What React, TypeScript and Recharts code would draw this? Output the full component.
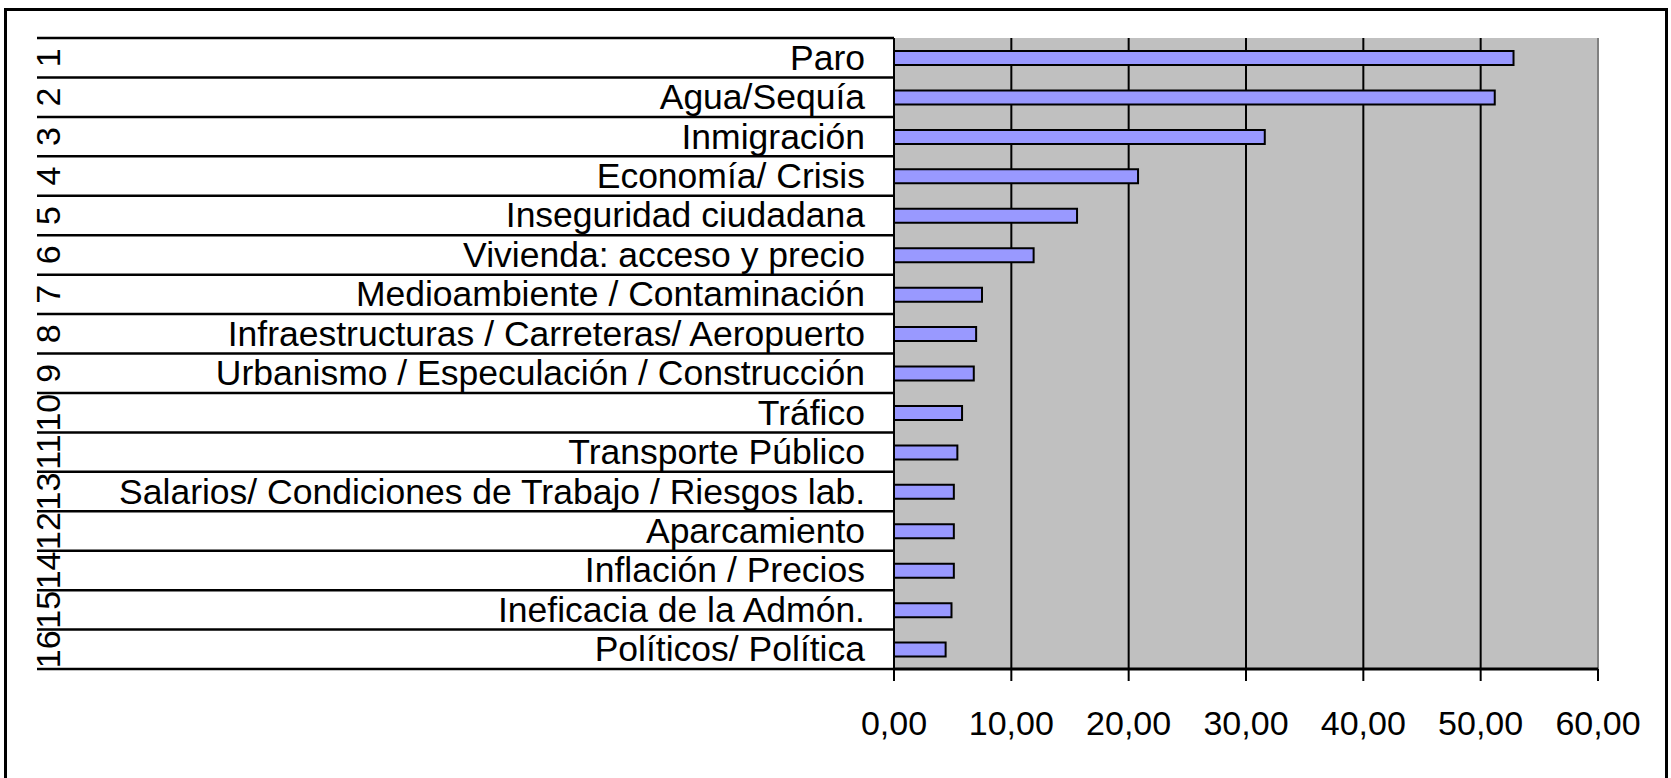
import React from "react";
import {
  BarChart,
  Bar,
  XAxis,
  YAxis,
  CartesianGrid,
  ReferenceLine,
} from "recharts";

// problemas citados, de mayor a menor
const categories = [
  "Paro",
  "Agua/Sequía",
  "Inmigración",
  "Economía/ Crisis",
  "Inseguridad ciudadana",
  "Vivienda: acceso y precio",
  "Medioambiente / Contaminación",
  "Infraestructuras / Carreteras/ Aeropuerto",
  "Urbanismo / Especulación / Construcción",
  "Tráfico",
  "Transporte Público",
  "Salarios/ Condiciones de Trabajo / Riesgos lab.",
  "Aparcamiento",
  "Inflación / Precios",
  "Ineficacia de la Admón.",
  "Políticos/ Política",
];

const ranks = [1, 2, 3, 4, 5, 6, 7, 8, 9, 10, 11, 13, 12, 14, 15, 16];

const values = [
  52.8, 51.2, 31.6, 20.8, 15.6, 11.9, 7.5, 7.0, 6.8, 5.8, 5.4, 5.1, 5.1, 5.1, 4.9,
  4.4,
];

const xTicks = [0, 10, 20, 30, 40, 50, 60];

const data = categories.map((name, i) => ({
  name,
  rank: ranks[i],
  value: values[i],
}));

const W = 1671;
const H = 778;
const PLOT_TOP = 38;
const PLOT_BOTTOM = 669;
const PLOT_LEFT = 894;
const PLOT_RIGHT = 1598;
const BAND = (PLOT_BOTTOM - PLOT_TOP) / categories.length;
const FONT = '"Liberation Sans", Arial, sans-serif';

function CategoryTick(props: any) {
  const { y, payload, index } = props;
  const row = data[index] || data.find((d) => d.name === payload.value);
  const last = index === categories.length - 1;
  return (
    <g>
      <line
        x1={37}
        x2={PLOT_LEFT}
        y1={y - BAND / 2}
        y2={y - BAND / 2}
        stroke="#000"
        strokeWidth={2.5}
      />
      {last && (
        <line
          x1={37}
          x2={PLOT_LEFT}
          y1={y + BAND / 2}
          y2={y + BAND / 2}
          stroke="#000"
          strokeWidth={2.5}
        />
      )}
      <text
        x={865}
        y={y}
        dy={12}
        textAnchor="end"
        fontSize={35.5}
        fontFamily={FONT}
        fill="#000"
      >
        {payload.value}
      </text>
      {row && (
        <text
          x={0}
          y={0}
          transform={`translate(60, ${y}) rotate(-90)`}
          textAnchor="middle"
          fontSize={34}
          fontFamily={FONT}
          fill="#000"
        >
          {row.rank}
        </text>
      )}
    </g>
  );
}

export default function App() {
  return (
    <div
      style={{
        position: "absolute",
        left: 0,
        top: 0,
        width: W,
        height: H,
        overflow: "hidden",
        background: "#fff",
      }}
    >
      <div
        style={{
          position: "absolute",
          left: 4,
          top: 8,
          width: 1664,
          height: 820,
          boxSizing: "border-box",
          border: "3px solid #000",
        }}
      />
      <div style={{ position: "absolute", left: 0, top: 0 }}>
        <BarChart
          width={W}
          height={H}
          data={data}
          layout="vertical"
          barCategoryGap={0}
          margin={{ top: PLOT_TOP, right: W - PLOT_RIGHT, bottom: 0, left: 0 }}
        >
          <CartesianGrid
            horizontal={false}
            vertical={true}
            fill="#C0C0C0"
            fillOpacity={1}
            stroke="#000"
            strokeWidth={2}
          />
          <ReferenceLine x={60} stroke="#808080" strokeWidth={2} />
          <XAxis
            type="number"
            domain={[0, 60]}
            ticks={xTicks}
            interval={0}
            height={H - PLOT_BOTTOM}
            tickFormatter={(v: number) => v.toFixed(2).replace(".", ",")}
            axisLine={{ stroke: "#000", strokeWidth: 3 }}
            tickLine={{ stroke: "#000", strokeWidth: 2 }}
            tickSize={12}
            tickMargin={30}
            tick={{ fontSize: 34, fill: "#000", fontFamily: FONT }}
          />
          <YAxis
            type="category"
            dataKey="name"
            width={PLOT_LEFT}
            interval={0}
            axisLine={{ stroke: "#000", strokeWidth: 2 }}
            tickLine={false}
            tick={<CategoryTick />}
          />
          <Bar
            dataKey="value"
            fill="#9999FF"
            stroke="#000"
            strokeWidth={2}
            barSize={14}
            isAnimationActive={false}
          />
        </BarChart>
      </div>
    </div>
  );
}
